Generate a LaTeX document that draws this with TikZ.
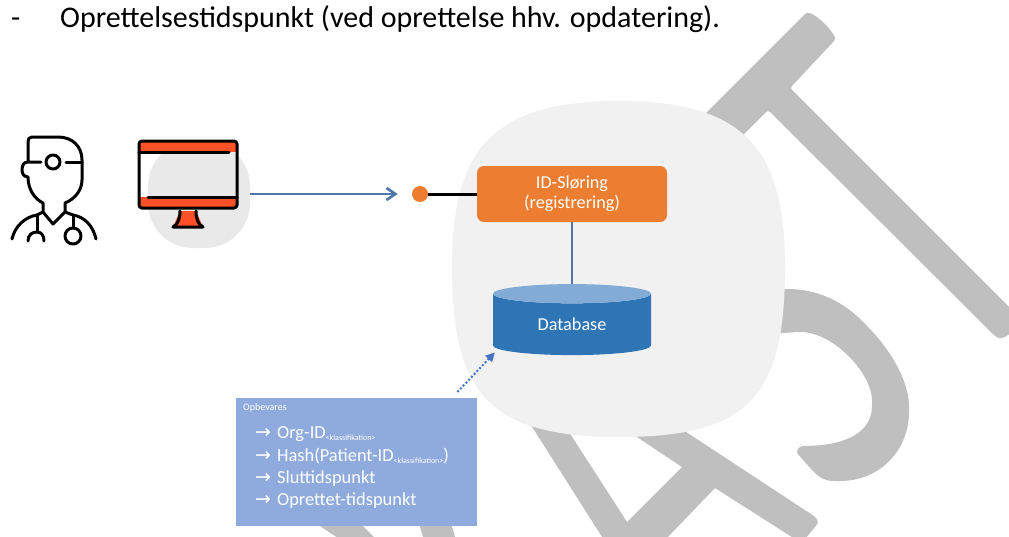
\documentclass[tikz,border=0pt]{standalone}
\usepackage{fontspec}
\setmainfont{Carlito}
\newfontfamily\arrowfont{DejaVu Sans}
\usetikzlibrary{calc}
\usetikzlibrary{shapes.geometric}
\usetikzlibrary{arrows}
\usetikzlibrary{arrows.meta}
\newcommand{\rowarrow}{{\arrowfont\fontsize{19}{19}\selectfont →}\hspace{6pt}}
\newcommand{\klass}{\raisebox{-2pt}{\fontsize{8}{8}\selectfont <klassifikation>}}
\definecolor{lettergray}{HTML}{BFBFBF}
\definecolor{blobgray}{HTML}{F1F1F1}
\definecolor{screengray}{HTML}{E9E9E9}
\definecolor{screenred}{HTML}{FF5027}
\definecolor{boxorange}{HTML}{ED7D31}
\definecolor{linkblue}{HTML}{4F77AC}
\definecolor{dbblue}{HTML}{2E75B6}
\definecolor{dbtop}{HTML}{82ABD6}
\definecolor{noteblue}{HTML}{8FAADC}
\definecolor{dotblue}{HTML}{4472C4}

\begin{document}
\begin{tikzpicture}[x=1,y=-1,-,
	letter/.style={fill=lettergray, draw=none},
	blob/.style={fill=blobgray, draw=none},
	icon/.style={draw=black, line width=3, line cap=round, line join=round},
	boxtext/.style={text=white, font=\fontsize{18.2}{20}\selectfont, align=center},
	rowtext/.style={text=white, anchor=west, inner sep=0pt, font=\fontsize{18.4}{20}\selectfont},
	heading/.style={anchor=base west, inner sep=0pt, font=\fontsize{30}{30}\selectfont},
	link/.style={draw=linkblue, line width=2.6}]

\clip (0,0) rectangle (1009,536);
\fill[white] (0,0) rectangle (1009,536);

% Grey letters behind everything
\path[letter, rounded corners=3] (807,12) .. controls (818,16) and (830,28) .. (836,39) -- (790,88) -- (1020,318) -- (1009,335) -- (1000,339) -- (995,336) -- (768,110) -- (720,158) -- (660,159) -- cycle;
\path[letter, rounded corners=3] (770,289) -- (784,289) .. controls (825,289) and (850,308) .. (867,326) .. controls (895,355) and (909,385) .. (909,409) .. controls (909,450) and (880,481) .. (837,481) .. controls (825,481) and (820,478) .. (812,470) -- (796,452) -- (800,446) .. controls (850,446) and (872,430) .. (872,403) .. controls (872,375) and (835,332) .. (797,332) -- (770,334) -- cycle;
\path[letter] (501,378) -- (540,387) -- (627,522) -- (682,467) -- (607,417) -- (613,384) -- (814,516) [rounded corners=3] -- (819,522) -- (805,539) -- (795,539) [sharp corners] -- (715,488) -- (665,540) -- (604,540) -- cycle;
\path[letter] (311,520) -- (357,520) -- (377,540) -- (341,540) -- cycle;
\path[letter] (418,520) -- (450,520) -- (456,540) -- (424,540) -- cycle;

% Round backgrounds
\path[blob] (620,101) .. controls (745,101) and (785,150) .. (785,267) .. controls (785,395) and (750,437) .. (620,437) .. controls (490,437) and (452,395) .. (452,267) .. controls (452,150) and (491,101) .. (620,101) -- cycle;
\node[fill=screengray, rounded corners=45, minimum width=102, minimum height=107, inner sep=0pt] (screen) at (199,194.5) {};

% Heading line
\node[heading] (dash) at (11,27) {-};
\node[heading] (title) at (60,27) {Oprettelsestidspunkt (ved oprettelse hhv. opdatering).};

% Doctor
\draw[icon] (28,162) -- (28,142) .. controls (28,139) and (29,137) .. (32,137) -- (58,137) .. controls (73,137) and (82,147) .. (82,160) -- (82,180) .. controls (82,190) and (75,199) .. (65,203) -- (65,212) -- (53,224) -- (43,212) -- (43,203) .. controls (35,199) and (28,190) .. (28,177) .. controls (23,177) and (22,172) .. (22,170) .. controls (22,165) and (24,162) .. (28,162) -- (41,162);
\draw[icon] (66,162) -- (82,162);
\draw[icon] (53,162) circle (7);
\draw[icon] (12,239) .. controls (15,226) and (25,217) .. (37,215) -- (43,212);
\draw[icon] (65,212) -- (73,215) .. controls (85,217) and (93,226) .. (96,239);
\draw[icon] (37,215) -- (37,232);
\draw[icon] (28,241) .. controls (28,235) and (32,232) .. (37,232) .. controls (41,232) and (44,235) .. (44,241);
\draw[icon] (73,215) -- (73,228);
\draw[icon] (73,236) circle (8);

% Monitor
\fill[screenred] (139,141) rectangle (237,152);
\fill[screenred] (139,197) rectangle (237,208);
\fill[screenred] (180,211) -- (196,211) -- (203,227) -- (173,227) -- cycle;
\draw[icon, rounded corners=3] (139,141) rectangle (237,208);
\draw[icon] (139,152) -- (229,152);
\draw[icon] (148,197) -- (237,197);
\draw[icon] (180,211) .. controls (180,219) and (178,224) .. (173,227) -- (203,227) .. controls (198,224) and (196,219) .. (196,211);

% Boxes
\node[fill=boxorange, rounded corners=7, minimum width=190, minimum height=56, inner sep=0pt, boxtext] (sloring) at (572,194) {ID-Sl\o{}ring\\(registrering)};
\node[circle, fill=boxorange, minimum size=16, inner sep=0pt] (dot) at (420,194) {};
\node[shape=cylinder, shape border rotate=90, aspect=0.28, cylinder uses custom fill, cylinder body fill=dbblue, cylinder end fill=dbtop, minimum width=158, minimum height=71, inner sep=0pt, boxtext] (database) at (572,324.5) {Database};

\path[draw=black, line width=3] (dot) -- (sloring);
\path[link] (sloring.south) -- (database.north);
\path[link, -{Straight Barb[length=9,width=12]}, shorten >=14] (screen.east |- dot) -- (dot);

% Note
\node[fill=noteblue, anchor=north west, minimum width=241, minimum height=128, inner sep=0pt] (note) at (236,398) {};
\node[anchor=west, inner sep=0pt, text=white, font=\fontsize{10}{10}\selectfont] (store) at (243,408) {Opbevares};
\node[rowtext] (row1) at (255,434) {\rowarrow Org-ID\klass};
\node[rowtext] (row2) at (255,456) {\rowarrow Hash(Patient-ID\klass)};
\node[rowtext] (row3) at (255,479) {\rowarrow Sluttidspunkt};
\node[rowtext] (row4) at (255,501) {\rowarrow Oprettet-tidspunkt};

\path[draw=dotblue, line width=2, dotted, -{Triangle[length=9,width=9]}] ($(note.north east)+(-20,-6)$) -- ($(database.after bottom)+(2,7)$);

\end{tikzpicture}
\end{document}
